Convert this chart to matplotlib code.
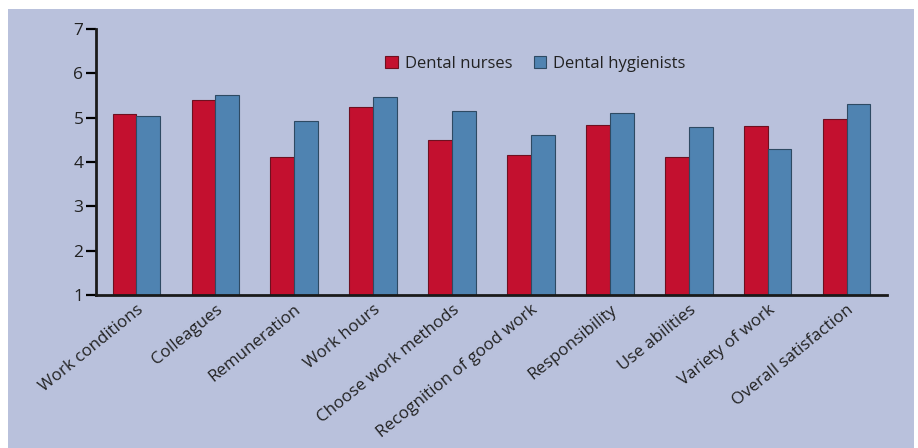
import numpy as np
import matplotlib
matplotlib.use("Agg")
import matplotlib.pyplot as plt
from matplotlib.patches import Rectangle

categories = ["Work conditions", "Colleagues", "Remuneration", "Work hours",
              "Choose work methods", "Recognition of good work", "Responsibility",
              "Use abilities", "Variety of work", "Overall satisfaction"]
nurses = [5.08, 5.39, 4.11, 5.23, 4.49, 4.15, 4.83, 4.11, 4.81, 4.98]
hygienists = [5.04, 5.52, 4.93, 5.47, 5.16, 4.62, 5.11, 4.79, 4.29, 5.30]

bg = "#b9c1dc"
red = "#c3102f"
blue = "#4f83b1"

plt.rcParams["font.family"] = ["Open Sans", "DejaVu Sans"]

fig = plt.figure(figsize=(9.18, 4.48), dpi=100)
fig.patch.set_facecolor("white")
# light blue panel behind the chart
fig.patches.append(Rectangle((8/918, 0), 906/918, 1 - 9/448, transform=fig.transFigure,
                             facecolor=bg, edgecolor="none", zorder=-10))

ax = fig.add_axes([96/918, 1 - 295/448, 791/918, 266/448])
ax.set_zorder(5)
ax.set_facecolor("none")

x = np.arange(len(categories))
w = 0.3
ax.bar(x - w/2, nurses, w, bottom=0, color=red, edgecolor="#6e1020", linewidth=0.8,
       label="Dental nurses")
ax.bar(x + w/2, hygienists, w, bottom=0, color=blue, edgecolor="#2e4a63", linewidth=0.8,
       label="Dental hygienists")

ax.set_ylim(1, 7)
ax.set_xlim(-0.51, 9.51)
ax.set_yticks([1, 2, 3, 4, 5, 6, 7])
ax.set_xticks(x)
ax.set_xticklabels(categories, rotation=39, ha="right", va="top", rotation_mode="anchor",
                   fontsize=12.2, color="#222222")
ax.tick_params(axis="x", length=0, pad=5)
ax.tick_params(axis="y", length=7, width=1.6, labelsize=12.5, labelcolor="#222222", pad=2)

for s in ["top", "right"]:
    ax.spines[s].set_visible(False)
for s in ["left", "bottom"]:
    ax.spines[s].set_linewidth(2)
    ax.spines[s].set_color("#1a1a1a")

ax.legend(loc="center left", bbox_to_anchor=(0.347, 0.868), ncol=2, frameon=False,
          fontsize=12, handlelength=0.75, handleheight=0.75, handletextpad=0.4,
          columnspacing=1.3, labelcolor="#222222")

plt.savefig("out.png", dpi=100, facecolor="white")
